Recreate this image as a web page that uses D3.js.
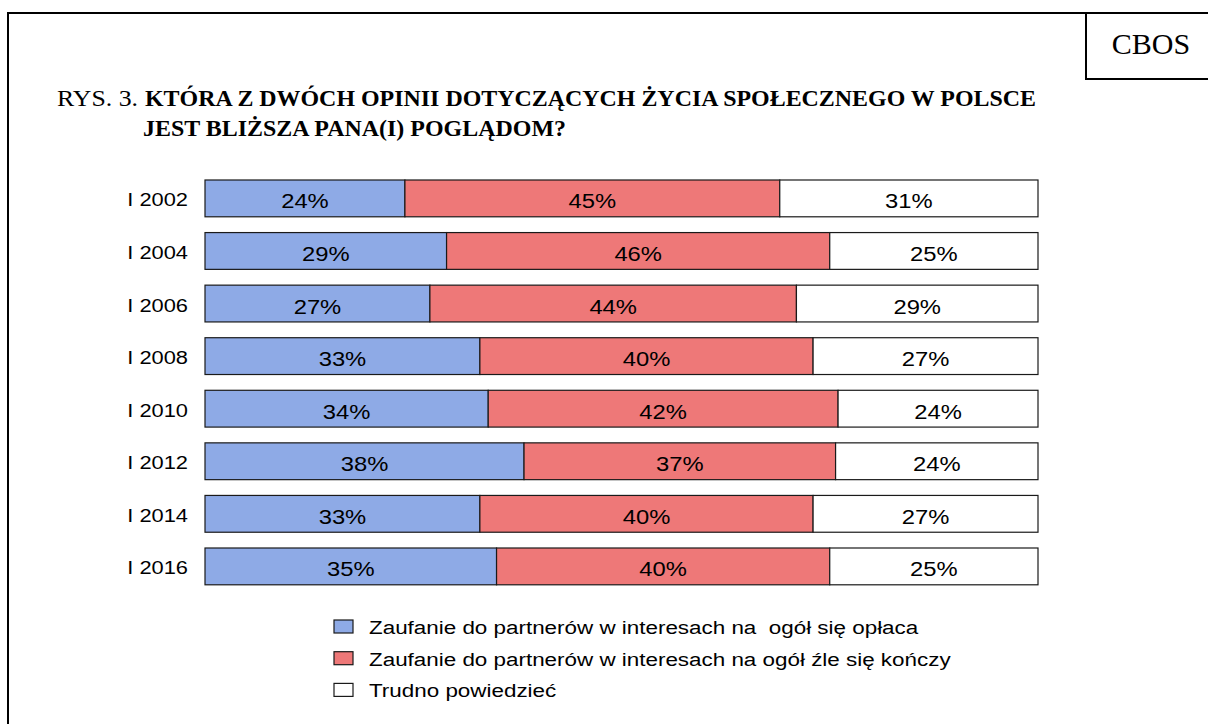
<!DOCTYPE html>
<html>
<head>
<meta charset="utf-8">
<title>CBOS - Zaufanie do partnerów w interesach</title>
<script src="https://cdn.jsdelivr.net/npm/d3@7"></script>
<style>
  body { margin: 0; background: #fff; }
  svg { display: block; }
</style>
</head>
<body>
<div id="chart"></div>
<script>
// data
var years = ["I 2002", "I 2004", "I 2006", "I 2008", "I 2010", "I 2012", "I 2014", "I 2016"];
var oplaca = [24, 29, 27, 33, 34, 38.3, 33, 35];
var zleSieKonczy = [45, 46, 44, 40, 42, 37.4, 40, 40];
var trudnoPowiedziec = [31, 25, 29, 27, 24, 24.3, 27, 25];

var seriesNames = [
  "Zaufanie do partnerów w interesach na  ogół się opłaca",
  "Zaufanie do partnerów w interesach na ogół źle się kończy",
  "Trudno powiedzieć"
];
var colors = ["#8eaae6", "#ee7878", "#ffffff"];

var W = 1208, H = 724;
var sx = 1.2; // the source is stretched sideways a bit

var svg = d3.select("#chart").append("svg")
  .attr("width", W)
  .attr("height", H);

// frame
svg.append("path")
  .attr("d", "M8,724 V13 H1208")
  .attr("fill", "none")
  .attr("stroke", "#000")
  .attr("stroke-width", 2);
svg.append("path")
  .attr("d", "M1086,13 V79 H1208")
  .attr("fill", "none")
  .attr("stroke", "#000")
  .attr("stroke-width", 2);
svg.append("text")
  .attr("x", 1151).attr("y", 54)
  .attr("text-anchor", "middle")
  .style("font-family", "'Liberation Serif', 'Times New Roman', serif")
  .style("font-size", "30px")
  .text("CBOS");

// title
var serif = "'Liberation Serif', 'Times New Roman', serif";
svg.append("text")
  .attr("x", 57).attr("y", 106)
  .attr("textLength", 81).attr("lengthAdjust", "spacingAndGlyphs")
  .style("font-family", serif).style("font-size", "23px")
  .text("RYS. 3.");
svg.append("text")
  .attr("x", 145).attr("y", 106)
  .attr("textLength", 891).attr("lengthAdjust", "spacingAndGlyphs")
  .style("font-family", serif).style("font-size", "23px").style("font-weight", "bold")
  .text("KTÓRA Z DWÓCH OPINII DOTYCZĄCYCH ŻYCIA SPOŁECZNEGO W POLSCE");
svg.append("text")
  .attr("x", 143).attr("y", 136)
  .attr("textLength", 423).attr("lengthAdjust", "spacingAndGlyphs")
  .style("font-family", serif).style("font-size", "23px").style("font-weight", "bold")
  .text("JEST BLIŻSZA PANA(I) POGLĄDOM?");

// scales
var x = d3.scaleLinear().domain([0, 100]).range([205, 1038]);
var y = d3.scaleBand().domain(years).range([180, 584.8]).paddingInner(0.3).paddingOuter(0);

var rows = years.map(function(yr, i) {
  var vals = [oplaca[i], zleSieKonczy[i], trudnoPowiedziec[i]];
  var start = 0;
  return vals.map(function(v, k) {
    var seg = {year: yr, k: k, v: v, x0: start, x1: start + v};
    start += v;
    return seg;
  });
});
var segs = d3.merge(rows);

function stretchedText(sel, size) {
  return sel.style("font-family", "Arial, 'Liberation Sans', sans-serif")
    .style("font-size", size + "px")
    .attr("fill", "#000");
}

// bars
svg.append("g").selectAll("rect")
  .data(segs).enter().append("rect")
  .attr("x", function(d) { return x(d.x0); })
  .attr("y", function(d) { return y(d.year); })
  .attr("width", function(d) { return x(d.x1) - x(d.x0); })
  .attr("height", y.bandwidth())
  .attr("fill", function(d) { return colors[d.k]; })
  .attr("stroke", "#1a1a1a")
  .attr("stroke-width", 1.2);

// value labels
stretchedText(svg.append("g").selectAll("text")
  .data(segs).enter().append("text")
  .attr("transform", function(d) {
    return "translate(" + (x(d.x0) + x(d.x1)) / 2 + "," + (y(d.year) + y.bandwidth() / 2 + 10) + ") scale(" + (sx - 0.04) + ",1)";
  })
  .attr("text-anchor", "middle")
  .text(function(d) { return Math.round(d.v) + "%"; }), 20.5);

// category labels
stretchedText(svg.append("g").selectAll("text")
  .data(years).enter().append("text")
  .attr("transform", function(d) {
    return "translate(188," + (y(d) + y.bandwidth() / 2 + 8) + ") scale(" + (sx - 0.05) + ",1)";
  })
  .attr("text-anchor", "end")
  .text(function(d) { return d; }), 19);

// legend
var legend = svg.append("g").selectAll("g")
  .data(seriesNames).enter().append("g")
  .attr("transform", function(d, i) { return "translate(334," + (620 + i * 31.7) + ")"; });
legend.append("rect")
  .attr("width", 19).attr("height", 13)
  .attr("fill", function(d, i) { return colors[i]; })
  .attr("stroke", "#1a1a1a")
  .attr("stroke-width", 1.2);
stretchedText(legend.append("text")
  .attr("transform", "translate(35,14) scale(" + (sx - 0.02) + ",1)")
  .style("white-space", "pre")
  .attr("xml:space", "preserve")
  .text(function(d) { return d; }), 19);
</script>
</body>
</html>
